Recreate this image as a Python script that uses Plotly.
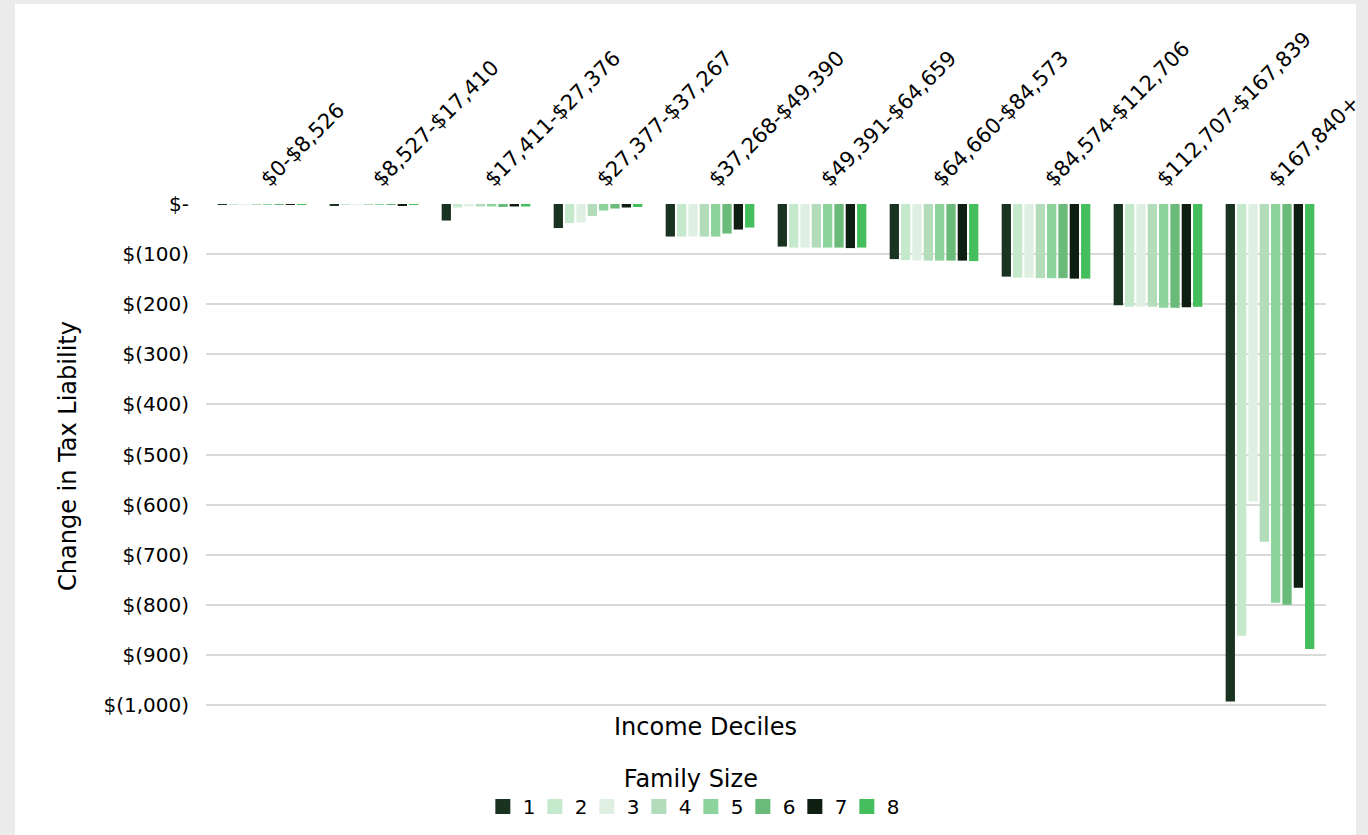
import plotly.graph_objects as go

deciles = ["$0-$8,526", "$8,527-$17,410", "$17,411-$27,376", "$27,377-$37,267",
           "$37,268-$49,390", "$49,391-$64,659", "$64,660-$84,573",
           "$84,574-$112,706", "$112,707-$167,839", "$167,840+"]

family_sizes = ["1", "2", "3", "4", "5", "6", "7", "8"]

size1 = [-1, -3, -33, -48, -65, -85, -110, -145, -202, -993]
size2 = [-0.5, -0.5, -7, -38, -65, -87, -112, -147, -205, -862]
size3 = [-0.5, -0.5, -5, -37, -65, -87, -113, -147, -205, -594]
size4 = [-1, -1, -5, -24, -65, -87, -113, -148, -205, -674]
size5 = [-0.5, -2, -5, -13, -65, -87, -113, -148, -207, -796]
size6 = [-2, -2, -6, -9, -59, -87, -113, -148, -207, -800]
size7 = [-0.5, -3, -5, -7, -51, -88, -113, -149, -206, -766]
size8 = [-0.5, -2, -5, -6, -47, -87, -114, -149, -205, -888]

series = [size1, size2, size3, size4, size5, size6, size7, size8]
colors = ["#1a3320", "#c5e9cc", "#dff0e3", "#b3dcbb", "#8dd49c", "#6aba7a", "#0e1f12", "#45bf5e"]

ytick_vals = [0, -100, -200, -300, -400, -500, -600, -700, -800, -900, -1000]
ytick_text = ["$-", "$(100)", "$(200)", "$(300)", "$(400)", "$(500)", "$(600)",
              "$(700)", "$(800)", "$(900)", "$(1,000)"]

FONT = "DejaVu Sans"

# plot area geometry (pixels)
L, R, T = 206, 1326, 204
PX_PER_UNIT = 0.501
Y_MIN = -1006
PH = round(-Y_MIN * PX_PER_UNIT)
B = 835 - T - PH
PW = R - L

fig = go.Figure()
for name, vals, col in zip(family_sizes, series, colors):
    fig.add_trace(go.Bar(
        x=deciles, y=vals, name=name, showlegend=False,
        marker=dict(color=col, line=dict(width=0)),
    ))
# legend entries with larger square swatches
for name, col in zip(family_sizes, colors):
    fig.add_trace(go.Scatter(
        x=[None], y=[None], mode="markers", name=name,
        marker=dict(symbol="square", size=15, color=col),
    ))

fig.update_layout(
    width=1368, height=835,
    paper_bgcolor="#ebebeb",
    plot_bgcolor="white",
    barmode="group",
    bargap=0.19,
    bargroupgap=0.18,
    margin=dict(l=L, r=1368 - R, t=T, b=B, autoexpand=False),
    font=dict(family=FONT, color="black", size=20),
    shapes=[dict(type="rect", xref="paper", yref="paper", layer="below",
                 x0=(15 - L) / PW, x1=(1356 - L) / PW, y0=-(B + 10) / PH, y1=(T + PH - 4) / PH,
                 fillcolor="white", line=dict(width=0))],
    xaxis=dict(
        side="top", type="category", tickangle=-45, automargin=False,
        tickfont=dict(family=FONT, size=21),
        showgrid=False, showline=False, zeroline=False, ticks="",
        ticklabelstandoff=8,
    ),
    yaxis=dict(
        range=[Y_MIN, 0], automargin=False,
        tickvals=ytick_vals, ticktext=ytick_text,
        tickfont=dict(family=FONT, size=20),
        gridcolor="#d9d9d9", gridwidth=2,
        zeroline=False, showline=False, ticks="",
        title=dict(text="Change in Tax Liability", font=dict(family=FONT, size=24), standoff=20),
        ticklabelstandoff=16,
    ),
    legend=dict(
        orientation="h", xref="container", yref="container",
        x=0.505, xanchor="center", y=0.095, yanchor="top",
        title=dict(text="Family Size", side="top center", font=dict(family=FONT, size=24)),
        font=dict(family=FONT, size=20),
        itemwidth=30, entrywidth=7, entrywidthmode="pixels",
        bgcolor="rgba(0,0,0,0)",
    ),
    annotations=[dict(text="Income Deciles", xref="paper", yref="paper",
                      x=(705 - L) / PW, y=-(727 - T - PH) / PH, xanchor="center", yanchor="middle",
                      showarrow=False, font=dict(family=FONT, size=24))],
)

fig.write_html("out.html")
